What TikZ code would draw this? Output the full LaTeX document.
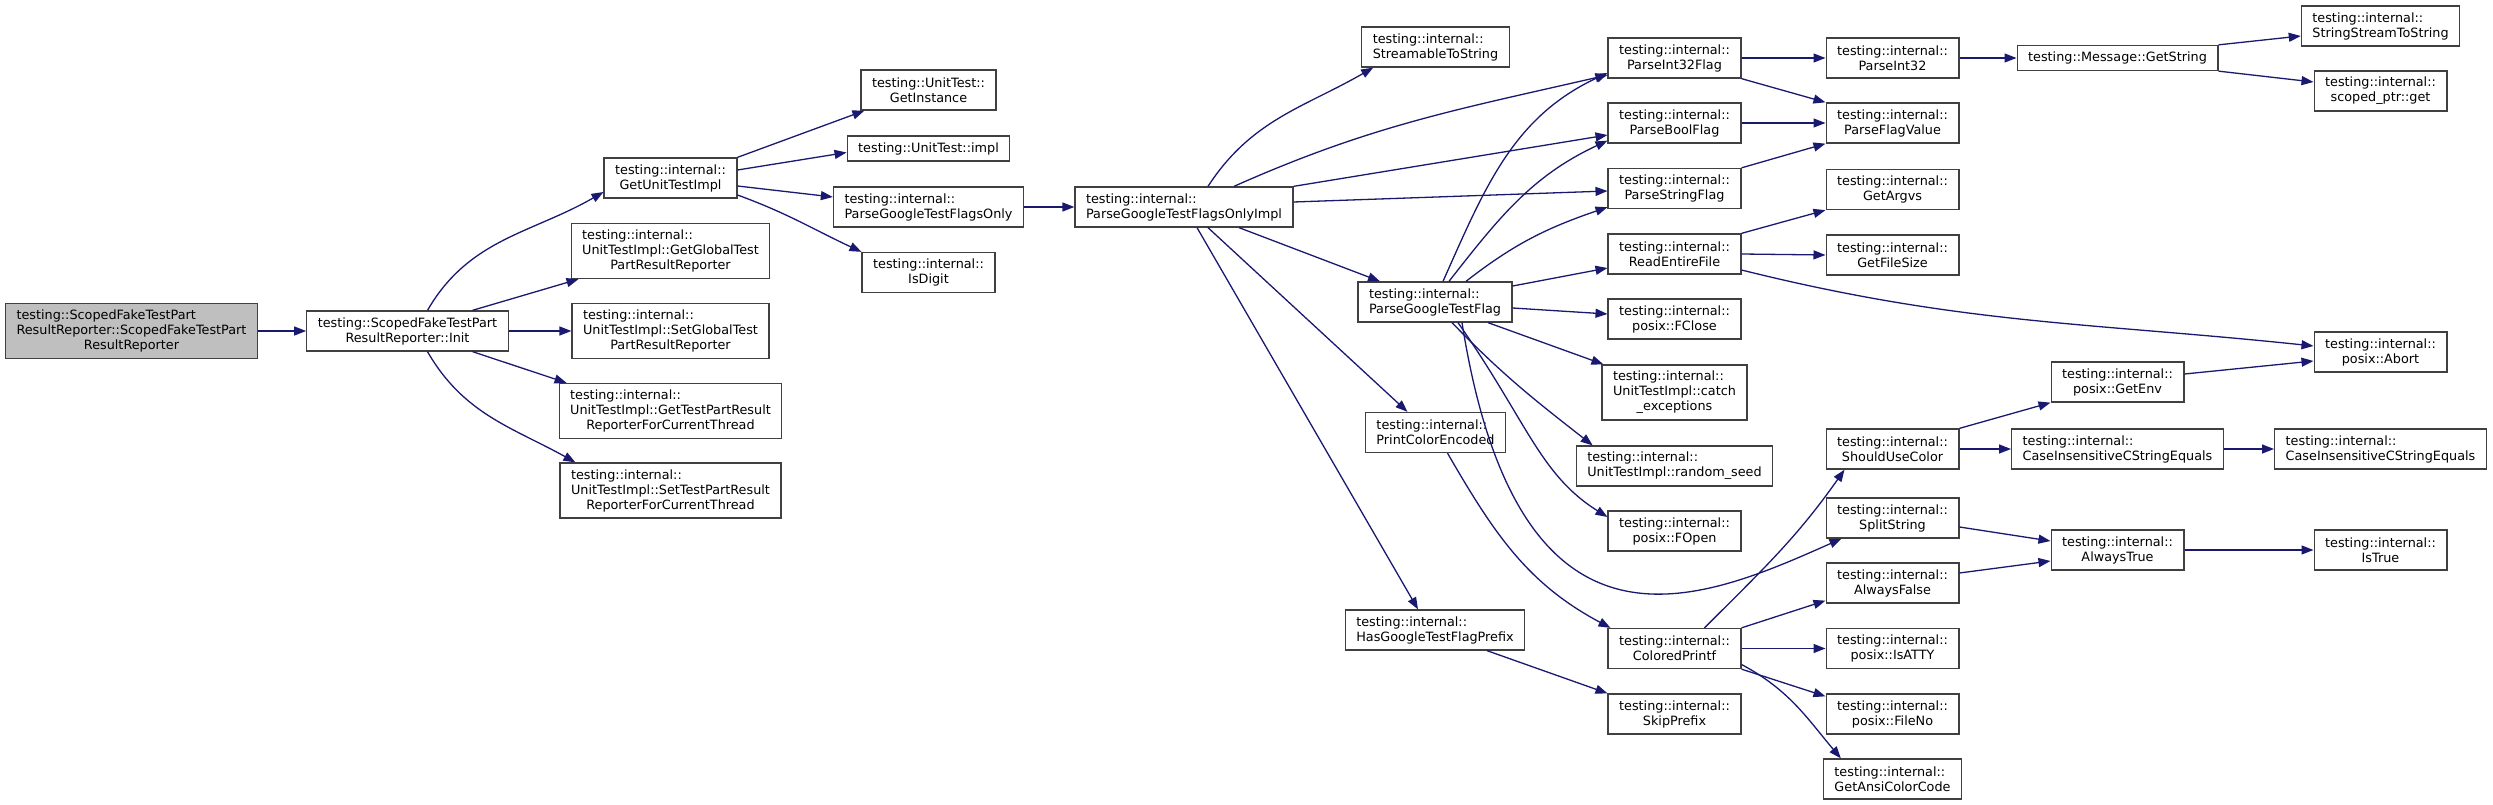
\documentclass[tikz,border=0pt]{standalone}
\usepackage{fontspec}
\setmainfont{DejaVu Sans}
\usetikzlibrary{arrows.meta}
\definecolor{edgeblue}{HTML}{191970}
\definecolor{boxline}{HTML}{404040}
\newcommand{\lastline}[1]{\hspace*{\fill}#1\hspace*{\fill}}

\begin{document}
\begin{tikzpicture}[x=1pt,y=-1pt,
    fn/.style={draw=boxline,fill=white,line width=1.3pt,align=left,
      inner xsep=11pt,inner ysep=2pt,minimum height=40pt,
      font=\fontsize{12.8}{15}\selectfont},
    fnone/.style={fn,minimum height=25pt},
    fnthree/.style={fn,minimum height=55pt},
    rootfn/.style={fnthree,fill=black!25},
    call/.style={draw=edgeblue,line width=1.3pt,
      -{Triangle[length=12pt,width=9pt]}}]

  \useasboundingbox (0,0) rectangle (2493,805);

  % --- Column 1-2: the constructor and Init ---------------------------------
  \node[rootfn] (root) at (131.5,331)
    {testing::ScopedFakeTestPart\\ResultReporter::ScopedFakeTestPart\\
     \lastline{ResultReporter}};
  \node[fn] (init) at (407.5,331)
    {testing::ScopedFakeTestPart\\\lastline{ResultReporter::Init}};

  % --- Column 3: what Init calls --------------------------------------------
  \node[fn] (getimpl) at (670.5,178)
    {testing::internal::\\\lastline{GetUnitTestImpl}};
  \node[fnthree] (getglobal) at (670.5,251)
    {testing::internal::\\UnitTestImpl::GetGlobalTest\\
     \lastline{PartResultReporter}};
  \node[fnthree] (setglobal) at (670.5,331)
    {testing::internal::\\UnitTestImpl::SetGlobalTest\\
     \lastline{PartResultReporter}};
  \node[fnthree] (getthread) at (670.5,411)
    {testing::internal::\\UnitTestImpl::GetTestPartResult\\
     \lastline{ReporterForCurrentThread}};
  \node[fnthree] (setthread) at (670.5,490.5)
    {testing::internal::\\UnitTestImpl::SetTestPartResult\\
     \lastline{ReporterForCurrentThread}};

  % --- Column 4-5: GetUnitTestImpl and the flag parsing entry -------------
  \node[fn] (getinstance) at (928.5,90)
    {testing::UnitTest::\\\lastline{GetInstance}};
  \node[fnone] (utimpl) at (928.5,148.5) {testing::UnitTest::impl};
  \node[fn] (flagsonly) at (928.5,207)
    {testing::internal::\\\lastline{ParseGoogleTestFlagsOnly}};
  \node[fn] (isdigit) at (928.5,272.5)
    {testing::internal::\\\lastline{IsDigit}};
  \node[fn] (flagsimpl) at (1184,207)
    {testing::internal::\\\lastline{ParseGoogleTestFlagsOnlyImpl}};

  % --- Column 6 -----------------------------------------------------------
  \node[fn] (streamable) at (1435.5,47)
    {testing::internal::\\\lastline{StreamableToString}};
  \node[fn] (pgtflag) at (1435,302)
    {testing::internal::\\\lastline{ParseGoogleTestFlag}};
  \node[fn] (printcolor) at (1435.5,432.5)
    {testing::internal::\\\lastline{PrintColorEncoded}};
  \node[fn] (hasprefix) at (1435,630)
    {testing::internal::\\\lastline{HasGoogleTestFlagPrefix}};

  % --- Column 7 -----------------------------------------------------------
  \node[fn] (int32flag) at (1674.5,58)
    {testing::internal::\\\lastline{ParseInt32Flag}};
  \node[fn] (boolflag) at (1674.5,123)
    {testing::internal::\\\lastline{ParseBoolFlag}};
  \node[fn] (stringflag) at (1674.5,188.5)
    {testing::internal::\\\lastline{ParseStringFlag}};
  \node[fn] (readfile) at (1674.5,254)
    {testing::internal::\\\lastline{ReadEntireFile}};
  \node[fn] (fclose) at (1674.5,319)
    {testing::internal::\\\lastline{posix::FClose}};
  \node[fnthree] (catchexc) at (1674.5,392.5)
    {testing::internal::\\UnitTestImpl::catch\\\lastline{\_exceptions}};
  \node[fn] (randomseed) at (1674.5,466)
    {testing::internal::\\\lastline{UnitTestImpl::random\_seed}};
  \node[fn] (fopen) at (1674.5,531)
    {testing::internal::\\\lastline{posix::FOpen}};
  \node[fn] (coloredprintf) at (1674.5,648.5)
    {testing::internal::\\\lastline{ColoredPrintf}};
  \node[fn] (skipprefix) at (1674.5,714)
    {testing::internal::\\\lastline{SkipPrefix}};

  % --- Column 8 -----------------------------------------------------------
  \node[fn] (parseint32) at (1892.5,58)
    {testing::internal::\\\lastline{ParseInt32}};
  \node[fn] (flagvalue) at (1892.5,123)
    {testing::internal::\\\lastline{ParseFlagValue}};
  \node[fn] (getargvs) at (1892.5,189.5)
    {testing::internal::\\\lastline{GetArgvs}};
  \node[fn] (filesize) at (1892.5,255)
    {testing::internal::\\\lastline{GetFileSize}};
  \node[fn] (shouldcolor) at (1892.5,449)
    {testing::internal::\\\lastline{ShouldUseColor}};
  \node[fn] (splitstring) at (1892.5,518)
    {testing::internal::\\\lastline{SplitString}};
  \node[fn] (alwaysfalse) at (1892.5,583)
    {testing::internal::\\\lastline{AlwaysFalse}};
  \node[fn] (isatty) at (1892.5,648.5)
    {testing::internal::\\\lastline{posix::IsATTY}};
  \node[fn] (fileno) at (1892.5,714)
    {testing::internal::\\\lastline{posix::FileNo}};
  \node[fn] (ansicolor) at (1892.5,779)
    {testing::internal::\\\lastline{GetAnsiColorCode}};

  % --- Column 9-10 --------------------------------------------------------
  \node[fnone] (getstring) at (2117.5,58) {testing::Message::GetString};
  \node[fn] (getenv) at (2117.5,382)
    {testing::internal::\\\lastline{posix::GetEnv}};
  \node[fn] (cise1) at (2117.5,449)
    {testing::internal::\\\lastline{CaseInsensitiveCStringEquals}};
  \node[fn] (alwaystrue) at (2117.5,550)
    {testing::internal::\\\lastline{AlwaysTrue}};
  \node[fn] (sstostring) at (2380.5,26)
    {testing::internal::\\\lastline{StringStreamToString}};
  \node[fn] (scopedget) at (2380.5,91)
    {testing::internal::\\\lastline{scoped\_ptr::get}};
  \node[fn] (abort) at (2380.5,352)
    {testing::internal::\\\lastline{posix::Abort}};
  \node[fn] (cise2) at (2380.5,449)
    {testing::internal::\\\lastline{CaseInsensitiveCStringEquals}};
  \node[fn] (istrue) at (2380.5,550)
    {testing::internal::\\\lastline{IsTrue}};

  % --- Calls --------------------------------------------------------------
  \draw[call] (root.east) -- (init.west);
  \draw[call] ([xshift=20pt]init.north) to[out=60,in=210]
    ([yshift=-14pt]getimpl.west);
  \draw[call] ([xshift=65pt]init.north) -- ([xshift=8pt]getglobal.south west);
  \draw[call] (init.east) -- (setglobal.west);
  \draw[call] ([xshift=65pt]init.south) -- ([xshift=8pt]getthread.north west);
  \draw[call] ([xshift=20pt]init.south) to[out=-60,in=151]
    ([xshift=16pt]setthread.north west);

  \draw[call] (getimpl.north east) -- ([xshift=4pt]getinstance.south west);
  \draw[call] ([yshift=8pt]getimpl.east) -- ([yshift=-4pt]utimpl.west);
  \draw[call] ([yshift=-8pt]getimpl.east) -- ([yshift=10pt]flagsonly.west);
  \draw[call] ([yshift=-17pt]getimpl.east) to[out=-20,in=155]
    (isdigit.north west);
  \draw[call] (flagsonly.east) -- (flagsimpl.west);

  % ParseGoogleTestFlagsOnlyImpl fans out to seven callees.
  \draw[call] ([xshift=24pt]flagsimpl.north) to[out=57,in=210]
    ([xshift=12pt]streamable.south west);
  \draw[call] ([xshift=50pt]flagsimpl.north) to[out=24,in=193]
    ([yshift=-17pt]int32flag.west);
  \draw[call] (flagsimpl.north east) -- ([yshift=-12pt]boolflag.west);
  \draw[call] ([yshift=5pt]flagsimpl.east) -- ([yshift=-2.5pt]stringflag.west);
  \draw[call] ([xshift=55pt]flagsimpl.south) -- ([xshift=-55pt]pgtflag.north);
  \draw[call] ([xshift=24pt]flagsimpl.south) -- ([xshift=-28pt]printcolor.north);
  \draw[call] ([xshift=13pt]flagsimpl.south) -- ([xshift=-17pt]hasprefix.north);

  % ParseGoogleTestFlag.
  \draw[call] ([xshift=8pt]pgtflag.north) to[out=66,in=205]
    ([yshift=-15pt]int32flag.west);
  \draw[call] ([xshift=14pt]pgtflag.north) to[out=52,in=205]
    ([yshift=3pt]boolflag.south west);
  \draw[call] ([xshift=31pt]pgtflag.north) to[out=38,in=199]
    ([yshift=2pt]stringflag.south west);
  \draw[call] ([yshift=16pt]pgtflag.east) -- ([yshift=-14pt]readfile.west);
  \draw[call] ([yshift=-6pt]pgtflag.east) -- ([yshift=5pt]fclose.west);
  \draw[call] ([xshift=53pt]pgtflag.south) -- ([xshift=2pt]catchexc.north west);
  \draw[call] ([xshift=17pt]pgtflag.south) to[out=-46,in=142]
    ([xshift=17pt]randomseed.north west);
  \draw[call] ([xshift=23pt]pgtflag.south)
    to[out=-55,in=148,out distance=120pt,in distance=80pt]
    ([yshift=14pt]fopen.west);
  % This one dips below FOpen before climbing to SplitString.
  \draw[call] ([xshift=27pt]pgtflag.south)
    to[out=-81,in=204,out distance=363pt,in distance=155pt]
    ([xshift=16pt]splitstring.south west);

  \draw[call] ([xshift=12pt]printcolor.south) to[out=-60,in=152]
    ([xshift=3pt]coloredprintf.north west);
  \draw[call] ([xshift=52pt]hasprefix.south) -- (skipprefix.north west);

  % ColoredPrintf.
  \draw[call] ([xshift=30pt]coloredprintf.north) to[out=45,in=235]
    ([xshift=19pt]shouldcolor.south west);
  \draw[call] (coloredprintf.north east) -- ([yshift=3pt]alwaysfalse.south west);
  \draw[call] (coloredprintf.east) -- (isatty.west);
  \draw[call] (coloredprintf.south east) -- ([yshift=-3pt]fileno.north west);
  \draw[call] ([yshift=-16pt]coloredprintf.east) to[out=-28,in=130]
    ([xshift=18pt]ansicolor.north west);

  \draw[call] (shouldcolor.north east) -- (getenv.south west);
  \draw[call] (shouldcolor.east) -- (cise1.west);
  \draw[call] (cise1.east) -- (cise2.west);
  \draw[call] ([yshift=8pt]getenv.east) -- ([yshift=-9pt]abort.west);

  \draw[call] (readfile.north east) -- (getargvs.south west);
  \draw[call] (readfile.east) -- (filesize.west);
  \draw[call] ([yshift=-16pt]readfile.east) to[out=-14,in=174]
    ([yshift=6pt]abort.west);

  \draw[call] (int32flag.east) -- (parseint32.west);
  \draw[call] (int32flag.south east) -- (flagvalue.north west);
  \draw[call] (boolflag.east) -- (flagvalue.west);
  \draw[call] (stringflag.north east) -- (flagvalue.south west);
  \draw[call] (parseint32.east) -- (getstring.west);
  \draw[call] (getstring.north east) -- ([yshift=-10pt]sstostring.west);
  \draw[call] (getstring.south east) -- ([yshift=9pt]scopedget.west);

  \draw[call] ([yshift=-9pt]splitstring.east) -- ([yshift=9pt]alwaystrue.west);
  \draw[call] ([yshift=10pt]alwaysfalse.east) -- ([yshift=-11pt]alwaystrue.west);
  \draw[call] (alwaystrue.east) -- (istrue.west);
\end{tikzpicture}
\end{document}
